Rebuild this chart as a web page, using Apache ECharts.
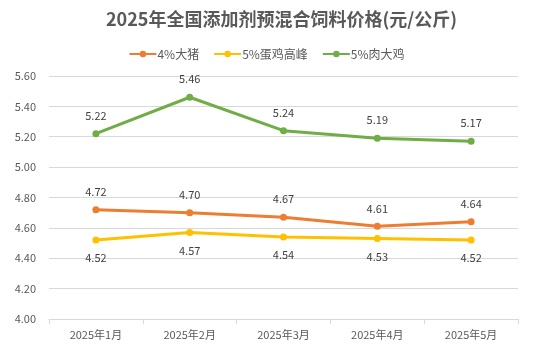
<!DOCTYPE html>
<html><head><meta charset="utf-8">
<script src="https://cdn.jsdelivr.net/npm/echarts@6/dist/echarts.min.js"></script>
<style>html,body{margin:0;padding:0;background:#fff}#c{width:533px;height:362px}</style>
</head><body><div id="c"></div>
<script>
const categories = ['2025年1月','2025年2月','2025年3月','2025年4月','2025年5月'];
const pig4 = [4.72, 4.70, 4.67, 4.61, 4.64];
const egg5 = [4.52, 4.57, 4.54, 4.53, 4.52];
const broiler5 = [5.22, 5.46, 5.24, 5.19, 5.17];
const seriesNames = ['4%大猪','5%蛋鸡高峰','5%肉大鸡'];
const colors = ['#ED7D31','#FFC000','#70AD47'];
const font = '"Noto Sans CJK SC", sans-serif';
const chart = echarts.init(document.getElementById('c'));
function mk(name, data, color, pos){
  return {name, type:'line', data, symbol:'circle', symbolSize:7,
    lineStyle:{width:3,color}, itemStyle:{color},
    label:{show:true, position:pos, distance:9, formatter:p=>p.value.toFixed(2), color:'#404040', fontSize:11, fontFamily:font}};
}
chart.setOption({
  animation:false,
  title:{text:'2025年全国添加剂预混合饲料价格(元/公斤)', left:101, top:5,
    textStyle:{fontSize:18, fontWeight:'bold', color:'#595959', fontFamily:font}},
  legend:{top:43, left:'center', itemWidth:27, itemHeight:8, itemGap:14,
    textStyle:{fontSize:12, color:'#595959', fontFamily:font, padding:[0,0,0,-4]}, data:seriesNames},
  grid:{left:49, right:15, top:76, bottom:43, containLabel:false},
  xAxis:{type:'category', data:categories, boundaryGap:true,
    axisLine:{lineStyle:{color:'#D9D9D9'}}, axisTick:{show:true, lineStyle:{color:'#D9D9D9'}, length:5},
    axisLabel:{color:'#595959', fontSize:11, fontFamily:font, margin:10}},
  yAxis:{type:'value', min:4.0, max:5.6, interval:0.2,
    axisLine:{show:false}, axisTick:{show:false},
    splitLine:{lineStyle:{color:'#D9D9D9'}},
    axisLabel:{color:'#595959', fontSize:11, fontFamily:font, formatter:v=>v.toFixed(2), margin:13}},
  series:[mk(seriesNames[0],pig4,colors[0],'top'), mk(seriesNames[1],egg5,colors[1],'bottom'), mk(seriesNames[2],broiler5,colors[2],'top')]
});
</script></body></html>
